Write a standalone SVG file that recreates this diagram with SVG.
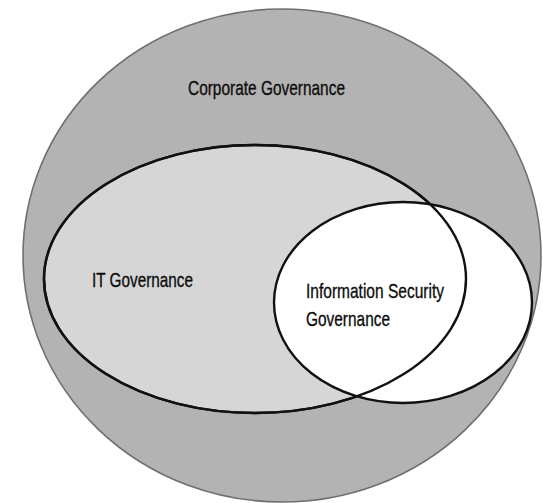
<svg xmlns="http://www.w3.org/2000/svg" width="543" height="503" viewBox="0 0 543 503">
  <style>
    .lbl { font-family: "Liberation Sans", Arial, sans-serif; font-size: 21px; fill: #0d0d0d; stroke: #0d0d0d; stroke-width: 0.35; }
    .ring { stroke: #111111; stroke-width: 2.4; }
  </style>
  <rect x="0" y="0" width="543" height="503" fill="#ffffff"/>
  <g id="corporate-governance">
    <ellipse cx="282" cy="255.5" rx="259" ry="246.5" fill="#b3b3b3" stroke="#6f6f6f" stroke-width="1.6"/>
    <text class="lbl" x="188" y="95" textLength="157" lengthAdjust="spacingAndGlyphs">Corporate Governance</text>
  </g>
  <g id="it-governance">
    <ellipse class="ring" cx="255" cy="279" rx="211" ry="134" fill="#d6d6d6"/>
    <text class="lbl" x="92" y="287" textLength="101" lengthAdjust="spacingAndGlyphs">IT Governance</text>
  </g>
  <g id="information-security-governance">
    <ellipse class="ring" cx="403" cy="302.5" rx="129" ry="100.5" fill="#ffffff"/>
    <text class="lbl" x="306" y="298" textLength="138" lengthAdjust="spacingAndGlyphs">Information Security</text>
    <text class="lbl" x="306" y="326" textLength="84" lengthAdjust="spacingAndGlyphs">Governance</text>
  </g>
  <g id="it-governance-outline">
    <ellipse class="ring" cx="255" cy="279" rx="211" ry="134" fill="none"/>
  </g>
</svg>
